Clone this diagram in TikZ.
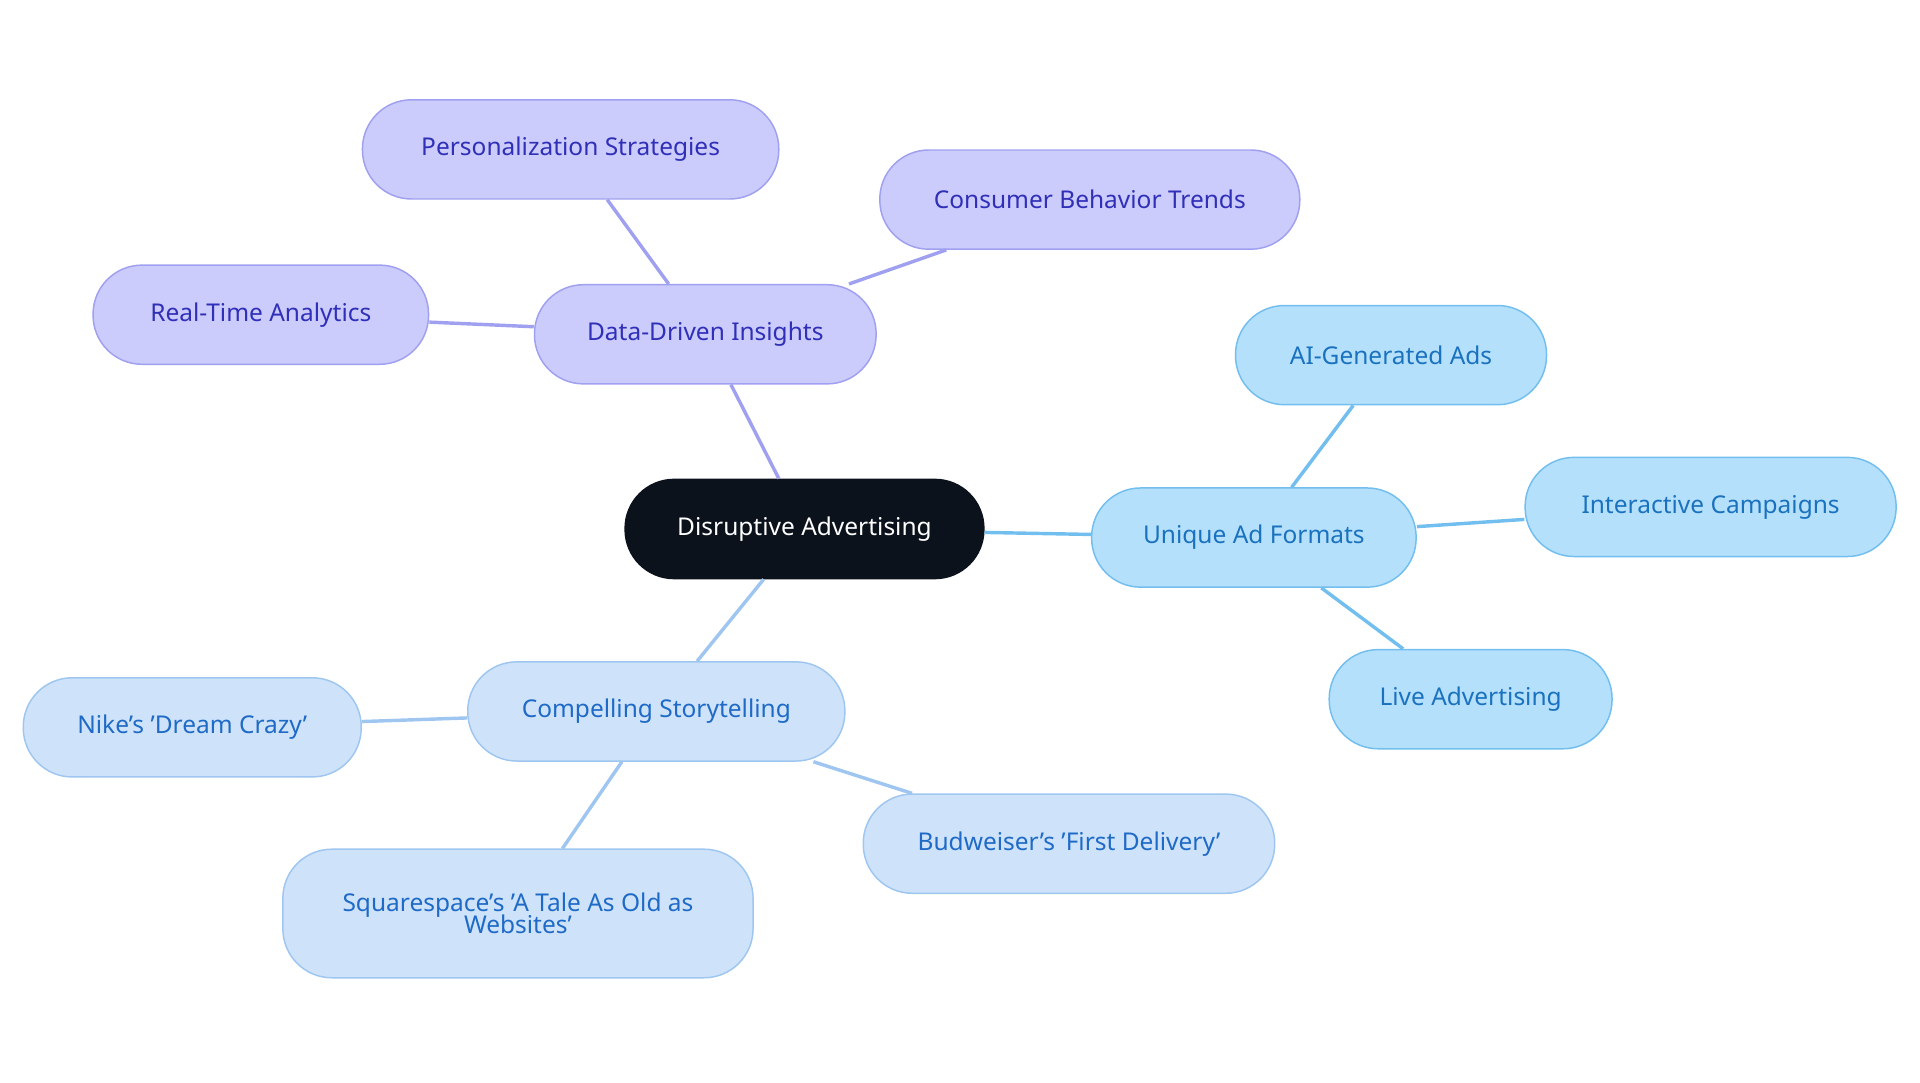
\documentclass[tikz,border=0pt]{standalone}
\usepackage{fontspec}
\setmainfont{Noto Sans}
\definecolor{rootfill}{HTML}{0B121C}
\definecolor{purfill}{HTML}{CBCBFC}
\definecolor{purline}{HTML}{A0A0F0}
\definecolor{purtext}{HTML}{2F2FB8}
\definecolor{skyfill}{HTML}{B4E0FC}
\definecolor{skyline}{HTML}{72BEEE}
\definecolor{skytext}{HTML}{1A72BE}
\definecolor{palefill}{HTML}{CEE3FA}
\definecolor{paleline}{HTML}{9EC6F0}
\definecolor{paletext}{HTML}{1E6AC6}
\tikzset{
  box/.style={draw, rounded corners=20pt, minimum height=40.5pt, align=center,
    font=\fontsize{10}{11}\selectfont, inner sep=2pt, line width=0.6pt},
  purbox/.style={box, fill=purfill, draw=purline, text=purtext},
  skybox/.style={box, fill=skyfill, draw=skyline, text=skytext},
  palebox/.style={box, fill=palefill, draw=paleline, text=paletext},
}
\begin{document}
\begin{tikzpicture}[x=0.5pt,y=-0.5pt]
\useasboundingbox (0,0) rectangle (1568,884);

\node[box, fill=rootfill, draw=rootfill, text=white, minimum width=146.5pt] (root) at (657,432) {Disruptive Advertising};

\node[purbox, minimum width=139.5pt] (ddi) at (576,273) {Data-Driven Insights};
\node[purbox, minimum width=170pt] (pers) at (466,122) {Personalization Strategies};
\node[purbox, minimum width=171.5pt] (cons) at (890,163) {Consumer Behavior Trends};
\node[purbox, minimum width=137pt] (rta) at (213,257) {Real-Time Analytics};

\node[skybox, minimum width=132.5pt] (uaf) at (1024,439) {Unique Ad Formats};
\node[skybox, minimum width=127pt] (aig) at (1136,290) {AI-Generated Ads};
\node[skybox, minimum width=151.5pt] (inter) at (1397,414) {Interactive Campaigns};
\node[skybox, minimum width=115.5pt] (live) at (1201,571) {Live Advertising};

\node[palebox, minimum width=154pt] (story) at (536,581) {Compelling Storytelling};
\node[palebox, minimum width=138pt] (nike) at (157,594) {Nike's 'Dream Crazy'};
\node[palebox, minimum width=192pt, minimum height=52.5pt] (sq) at (423,746) {Squarespace's 'A Tale As Old as\\[-2pt]Websites'};
\node[palebox, minimum width=168pt] (bud) at (873,689) {Budweiser's 'First Delivery'};

\draw[purline, line width=1.4pt] (root) -- (ddi);
\foreach \n in {pers,cons,rta}
  \draw[purline, line width=1.4pt] (ddi) -- (\n);
\draw[skyline, line width=1.4pt] (root) -- (uaf);
\foreach \n in {aig,inter,live}
  \draw[skyline, line width=1.4pt] (uaf) -- (\n);
\draw[paleline, line width=1.4pt] (root) -- (story);
\foreach \n in {nike,sq,bud}
  \draw[paleline, line width=1.4pt] (story) -- (\n);

\end{tikzpicture}
\end{document}
